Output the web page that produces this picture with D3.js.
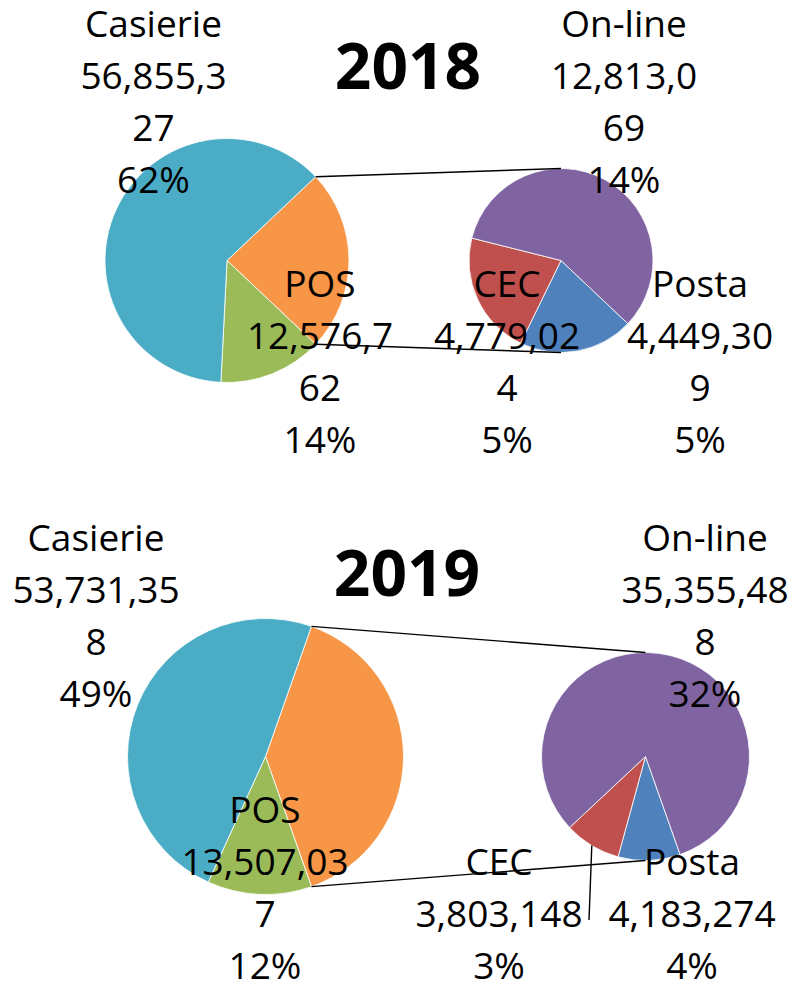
<!DOCTYPE html>
<html>
<head>
<meta charset="utf-8">
<script src="https://cdn.jsdelivr.net/npm/d3@7"></script>
<style>
  html, body { margin: 0; padding: 0; background: #fff; }
  svg { display: block; }
</style>
</head>
<body>
<svg id="chart"></svg>
<script>
/* ---- data ---------------------------------------------------------- */
const years = ["2018", "2019"];
const categories = ["Casierie", "POS", "On-line", "CEC", "Posta"];
const values2018 = [56855327, 12576762, 12813069, 4779024, 4449309];
const values2019 = [53731358, 13507037, 35355488, 3803148, 4183274];

// slice order, clockwise, in the first pie and in the "pie of pie"
const mainOrder = ["Other", "POS", "Casierie"];
const secondOrder = ["Posta", "CEC", "On-line"];

const colors = {
  "Casierie": "#4BACC6",
  "POS": "#9BBB59",
  "Other": "#F79646",
  "On-line": "#8064A2",
  "CEC": "#C0504D",
  "Posta": "#4F81BD"
};

/* ---- layout -------------------------------------------------------- */
const width = 793, height = 985;
const fontFamily = "'Open Sans', 'Noto Sans', sans-serif";
const labelSize = 37, lineHeight = 52;

const charts = [
  { year: years[0], values: values2018, wrap: 8,
    title: [408, 89],
    main: { x: 227, y: 260.5, r: 122 },
    second: { x: 561, y: 260.5, r: 92 },
    labels: { "Casierie": [153.5, 37], "On-line": [624, 37], "POS": [320, 297],
              "CEC": [507, 297], "Posta": [700, 297] },
    leader: null },
  { year: years[1], values: values2019, wrap: 9,
    title: [407, 596],
    main: { x: 265.5, y: 756.5, r: 138 },
    second: { x: 645.5, y: 756.5, r: 104 },
    labels: { "Casierie": [96, 551], "On-line": [705, 551], "POS": [265, 823],
              "CEC": [499, 875], "Posta": [692, 875] },
    leader: { cat: "CEC", to: [589, 920] } }
];

const svg = d3.select("#chart")
  .attr("width", width)
  .attr("height", height)
  .attr("viewBox", "0 0 " + width + " " + height);

svg.append("rect").attr("width", width).attr("height", height).attr("fill", "#fff");

const fmtNum = d3.format(",");
const fmtPct = d3.format(".0%");

/* point on a circle, angle measured clockwise from 12 o'clock */
function onCircle(c, a) {
  return [c.x + c.r * Math.sin(a), c.y - c.r * Math.cos(a)];
}

charts.forEach(function(ch) {
  const byCat = new Map(categories.map((c, i) => [c, ch.values[i]]));
  const total = d3.sum(ch.values);
  const otherSum = d3.sum(secondOrder, c => byCat.get(c));
  const otherAngle = 2 * Math.PI * otherSum / total;

  const mainData = mainOrder.map(c => ({ cat: c, value: c === "Other" ? otherSum : byCat.get(c) }));
  const secondData = secondOrder.map(c => ({ cat: c, value: byCat.get(c) }));

  /* first pie: "other" slice centred at 3 o'clock */
  const a0 = Math.PI / 2 - otherAngle / 2;
  const pieMain = d3.pie().sort(null).value(d => d.value)
    .startAngle(a0).endAngle(a0 + 2 * Math.PI);
  /* second pie starts at the mirror of the other slice's lower edge */
  const b0 = Math.PI / 2 + otherAngle / 2;
  const pieSecond = d3.pie().sort(null).value(d => d.value)
    .startAngle(b0).endAngle(b0 + 2 * Math.PI);

  const g = svg.append("g").attr("class", "chart-" + ch.year);

  const arcMain = d3.arc().innerRadius(0).outerRadius(ch.main.r);
  const arcSecond = d3.arc().innerRadius(0).outerRadius(ch.second.r);

  g.append("g")
    .attr("transform", "translate(" + ch.main.x + "," + ch.main.y + ")")
    .selectAll("path")
    .data(pieMain(mainData))
    .join("path")
    .attr("d", arcMain)
    .attr("fill", d => colors[d.data.cat])
    .attr("stroke", "#fff")
    .attr("stroke-width", 0.8);

  const secondArcs = pieSecond(secondData);
  g.append("g")
    .attr("transform", "translate(" + ch.second.x + "," + ch.second.y + ")")
    .selectAll("path")
    .data(secondArcs)
    .join("path")
    .attr("d", arcSecond)
    .attr("fill", d => colors[d.data.cat])
    .attr("stroke", "#fff")
    .attr("stroke-width", 0.8);

  /* connector lines between the two pies */
  const top0 = onCircle(ch.main, a0);
  const bot0 = onCircle(ch.main, a0 + otherAngle);
  const conn = [
    [top0, [ch.second.x, ch.second.y - ch.second.r]],
    [bot0, [ch.second.x, ch.second.y + ch.second.r]]
  ];
  g.selectAll("line.conn")
    .data(conn)
    .join("line")
    .attr("class", "conn")
    .attr("x1", d => d[0][0]).attr("y1", d => d[0][1])
    .attr("x2", d => d[1][0]).attr("y2", d => d[1][1])
    .attr("stroke", "#000")
    .attr("stroke-width", 1.4);

  /* leader line for a moved label */
  if (ch.leader) {
    const s = secondArcs.find(d => d.data.cat === ch.leader.cat);
    const mid = (s.startAngle + s.endAngle) / 2;
    const p = onCircle(ch.second, mid);
    g.append("line")
      .attr("x1", p[0]).attr("y1", p[1])
      .attr("x2", ch.leader.to[0]).attr("y2", ch.leader.to[1])
      .attr("stroke", "#000")
      .attr("stroke-width", 1.4);
  }

  /* data labels: name / value (wrapped) / percent */
  categories.forEach(function(cat) {
    const v = byCat.get(cat);
    const num = fmtNum(v);
    const lines = [cat];
    for (let i = 0; i < num.length; i += ch.wrap) lines.push(num.slice(i, i + ch.wrap));
    lines.push(fmtPct(v / total));

    const pos = ch.labels[cat];
    const t = g.append("text")
      .attr("text-anchor", "middle")
      .attr("font-family", fontFamily)
      .attr("font-size", labelSize)
      .attr("fill", "#000");
    t.selectAll("tspan")
      .data(lines)
      .join("tspan")
      .attr("x", pos[0])
      .attr("y", (d, i) => pos[1] + i * lineHeight)
      .text(d => d);
  });

  /* year title */
  g.append("text")
    .attr("x", ch.title[0])
    .attr("y", ch.title[1])
    .attr("text-anchor", "middle")
    .attr("font-family", fontFamily)
    .attr("font-weight", "bold")
    .attr("font-size", 64)
    .attr("fill", "#000")
    .text(ch.year);
});
</script>
</body>
</html>
